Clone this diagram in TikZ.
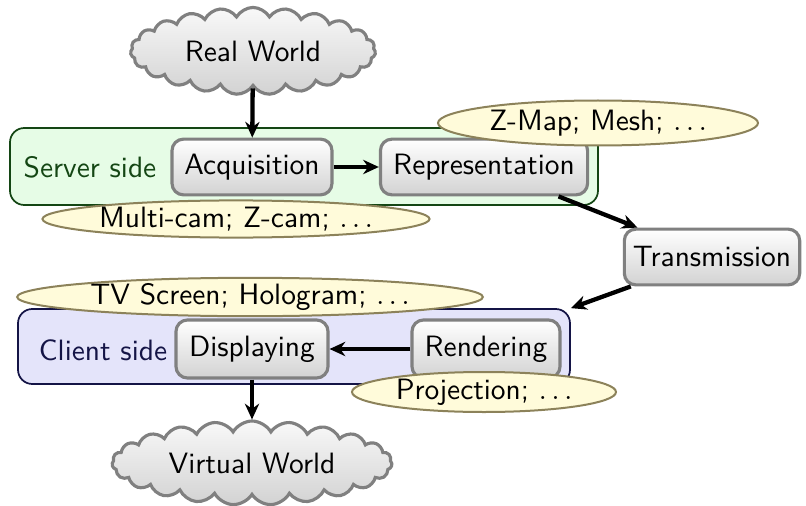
\documentclass[tikz,border=0pt]{standalone}
\usetikzlibrary{shapes.symbols,shapes.geometric,arrows.meta}
\definecolor{ellfill}{RGB}{255,251,218}
\definecolor{elldraw}{RGB}{140,130,90}
\definecolor{srvfill}{RGB}{230,252,230}
\definecolor{srvdraw}{RGB}{20,70,20}
\definecolor{clifill}{RGB}{228,228,250}
\definecolor{clidraw}{RGB}{20,20,70}
\tikzset{
  px/.style={x=0.35pt,y=-0.35pt},
  stepbox/.style={draw=gray,line width=1.1pt,rounded corners=4pt,top color=white,bottom color=gray!35,
    minimum height=19.5pt,inner sep=3pt,font=\sffamily\fontsize{10.3}{12}\selectfont},
  sky/.style={cloud,cloud puffs=23,cloud puff arc=120,draw=gray,line width=1.1pt,top color=gray!5,bottom color=gray!35,
    cloud ignores aspect,font=\sffamily\fontsize{10.3}{12}\selectfont},
  note/.style={ellipse,draw=elldraw,line width=0.7pt,fill=ellfill,inner sep=0pt,font=\sffamily\fontsize{10.3}{12}\selectfont},
  side/.style={rectangle,rounded corners=5pt,line width=0.6pt,inner sep=0pt},
  flow/.style={line width=1.5pt,-{Stealth[length=5.5pt,width=5pt]}}
}
\begin{document}
\begin{tikzpicture}[px]
\useasboundingbox (0,0) rectangle (806,506);
% side boxes
\node[side,draw=srvdraw,fill=srvfill,minimum width=205.8pt,minimum height=26.95pt] (server) at (304,166.5) {};
\node[side,draw=clidraw,fill=clifill,minimum width=193.2pt,minimum height=26.25pt] (client) at (294,346.5) {};
\node[font=\sffamily\fontsize{10.3}{12}\selectfont,text=srvdraw] (srvlabel) at (90,167) {Server side};
\node[font=\sffamily\fontsize{10.3}{12}\selectfont,text=clidraw] (clilabel) at (103,350) {Client side};
% clouds
\node[sky,minimum width=85.75pt,minimum height=30.5pt] (real) at (253,51) {Real World};
\node[sky,minimum width=98pt,minimum height=29.4pt] (virtual) at (252,463) {Virtual World};
% steps
\node[stepbox,minimum width=56pt] (acq) at (252,167) {Acquisition};
\node[stepbox,minimum width=72.5pt] (rep) at (484,167) {Representation};
\node[stepbox,minimum width=60.2pt] (trans) at (712,257) {Transmission};
\node[stepbox,minimum width=53.2pt,minimum height=20.3pt] (disp) at (252,349) {Displaying};
\node[stepbox,minimum width=51.8pt,minimum height=20.3pt] (rend) at (486,349) {Rendering};
% notes
\node[note,minimum width=112pt,minimum height=15.75pt] (zmap) at (598,123) {Z-Map; Mesh; $\ldots$};
\node[note,minimum width=128.8pt,minimum height=13pt] (mcam) at (236,219) {Multi-cam; Z-cam; $\ldots$};
\node[note,minimum width=163pt,minimum height=13pt] (tv) at (250,297) {TV Screen; Hologram; $\ldots$};
\node[note,minimum width=92.4pt,minimum height=14pt] (proj) at (484,392) {Projection; $\ldots$};
% connectors
\draw[flow] (real) -- (acq);
\draw[flow] (acq) -- (rep);
\draw[flow] (rep) -- (trans);
\draw[flow] (trans) -- (client.north east);
\draw[flow] (rend) -- (disp);
\draw[flow] (disp) -- (virtual);
\end{tikzpicture}
\end{document}
